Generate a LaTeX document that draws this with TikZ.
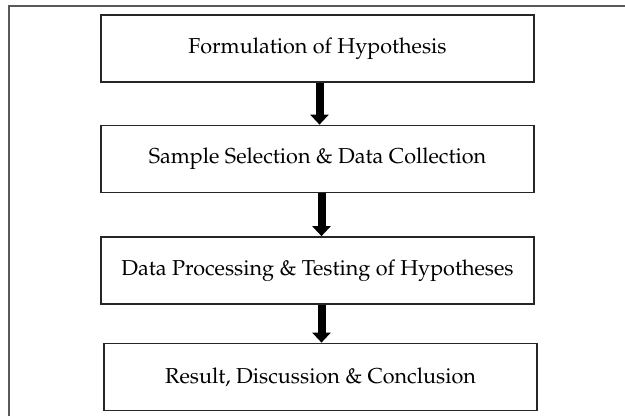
\documentclass[tikz,border=0pt]{standalone}
\usepackage[T1]{fontenc}
\usepackage{mathpazo}
\usetikzlibrary{arrows.meta}
\begin{document}
\begin{tikzpicture}[x=1pt,y=-1pt,
  stepbox/.style={draw=black!85, line width=1.7pt, minimum width=433pt, minimum height=67pt, inner sep=0pt, font=\fontsize{21.6}{24}\selectfont},
  flowarrow/.style={line width=8pt, -{Triangle[width=18pt,length=10pt]}}]
\useasboundingbox (0,0) rectangle (625,416);
\draw[black!65, line width=1.5pt] (9,416) -- (9,6) -- (625,6);
\node[stepbox] (b1) at (317.5,48.5) {Formulation of Hypothesis};
\node[stepbox] (b2) at (317.5,159) {Sample Selection \& Data Collection};
\node[stepbox] (b3) at (317.5,270.5) {Data Processing \& Testing of Hypotheses};
\node[stepbox] (b4) at (320.5,377) {Result, Discussion \& Conclusion};
\draw[flowarrow] ([xshift=2pt]b1.south) -- ([xshift=2pt]b2.north);
\draw[flowarrow] ([xshift=4pt]b2.south) -- ([xshift=4pt]b3.north);
\draw[flowarrow] ([xshift=4pt]b3.south) -- ([xshift=1pt]b4.north);
\end{tikzpicture}
\end{document}
